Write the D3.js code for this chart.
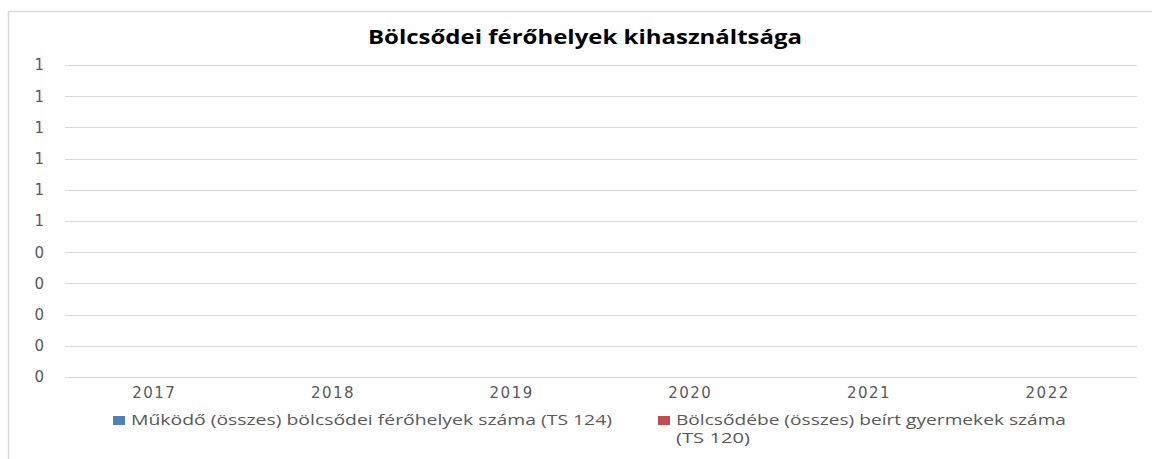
<!DOCTYPE html>
<html>
<head>
<meta charset="utf-8">
<script src="https://cdn.jsdelivr.net/npm/d3@7"></script>
<style>
  html, body { margin: 0; padding: 0; background: #fff; }
  svg { display: block; }
</style>
</head>
<body>
<svg id="chart" width="1152" height="459"></svg>
<script>
const categories = ["2017", "2018", "2019", "2020", "2021", "2022"];
const seriesNames = [
  "Működő (összes) bölcsődei férőhelyek száma (TS 124)",
  "Bölcsődébe (összes) beírt gyermekek száma (TS 120)"
];
const seriesA = [null, null, null, null, null, null];
const seriesB = [null, null, null, null, null, null];
const seriesColors = ["#4F81BD", "#C0504D"];
const yTickValues = [0, 0.1, 0.2, 0.3, 0.4, 0.5, 0.6, 0.7, 0.8, 0.9, 1];
const yTickLabels = ["0", "0", "0", "0", "0", "1", "1", "1", "1", "1", "1"];
const title = "Bölcsődei férőhelyek kihasználtsága";

const svg = d3.select("#chart");
const font = "'DejaVu Sans', sans-serif";

// chart area border
svg.append("rect")
  .attr("x", 8.5).attr("y", 11.5)
  .attr("width", 1160).attr("height", 460)
  .attr("fill", "#fff").attr("stroke", "#D9D9D9").attr("stroke-width", 1.5);

const m = { left: 65, right: 1137, top: 65, bottom: 377 };

const x = d3.scaleBand().domain(categories).range([m.left, m.right]).paddingInner(0.3).paddingOuter(0.15);
const xPos = d3.scaleBand().domain(categories).range([m.left, m.right]);
const y = d3.scaleLinear().domain([0, 1]).range([m.bottom, m.top]);

// gridlines
svg.append("g")
  .selectAll("line").data(yTickValues).join("line")
  .attr("x1", m.left).attr("x2", m.right)
  .attr("y1", d => Math.round(y(d)) + 0.5).attr("y2", d => Math.round(y(d)) + 0.5)
  .attr("stroke", "#D9D9D9").attr("stroke-width", 1.2);

// y axis labels
const yAxis = d3.axisLeft(y).tickValues(yTickValues)
  .tickFormat((d, i) => yTickLabels[i]).tickSize(0).tickPadding(21);
const gy = svg.append("g").attr("transform", `translate(${m.left},0)`).call(yAxis);
gy.select(".domain").remove();
gy.selectAll("text").attr("fill", "#595959").style("font-family", font).style("font-size", "15px");

// x axis labels
const xAxis = d3.axisBottom(xPos).tickSize(0).tickPadding(10);
const gx = svg.append("g").attr("transform", `translate(0,${m.bottom})`).call(xAxis);
gx.select(".domain").remove();
gx.selectAll("text").attr("fill", "#595959").style("font-family", font)
  .style("font-size", "15px").style("letter-spacing", "1.5px");

// bars (empty data -> none drawn)
const sub = d3.scaleBand().domain([0, 1]).range([0, x.bandwidth()]);
[seriesA, seriesB].forEach((vals, si) => {
  svg.append("g").selectAll("rect")
    .data(categories.map((c, i) => ({ c, v: vals[i] })).filter(d => d.v != null))
    .join("rect")
    .attr("x", d => x(d.c) + sub(si)).attr("width", sub.bandwidth())
    .attr("y", d => y(d.v)).attr("height", d => y(0) - y(d.v))
    .attr("fill", seriesColors[si]);
});

// title
svg.append("text")
  .attr("x", 585).attr("y", 44).attr("text-anchor", "middle")
  .attr("textLength", 434).attr("lengthAdjust", "spacingAndGlyphs")
  .style("font-family", "'Open Sans', sans-serif").style("font-weight", "bold")
  .style("font-size", "19px").attr("fill", "#000").text(title);

// legend
const leg = svg.append("g");
leg.append("rect").attr("x", 113).attr("y", 416).attr("width", 12).attr("height", 9).attr("fill", seriesColors[0]);
leg.append("text").attr("x", 131).attr("y", 425)
  .attr("textLength", 481).attr("lengthAdjust", "spacingAndGlyphs")
  .style("font-family", "'Open Sans', sans-serif").style("font-size", "15px").attr("fill", "#595959")
  .text(seriesNames[0]);

leg.append("rect").attr("x", 658).attr("y", 416).attr("width", 12).attr("height", 9).attr("fill", seriesColors[1]);
const parts = ["Bölcsődébe (összes) beírt gyermekek száma", "(TS 120)"];
leg.append("text").attr("x", 676).attr("y", 425)
  .attr("textLength", 390).attr("lengthAdjust", "spacingAndGlyphs")
  .style("font-family", "'Open Sans', sans-serif").style("font-size", "15px").attr("fill", "#595959")
  .text(parts[0]);
leg.append("text").attr("x", 676).attr("y", 443)
  .attr("textLength", 74).attr("lengthAdjust", "spacingAndGlyphs")
  .style("font-family", "'Open Sans', sans-serif").style("font-size", "15px").attr("fill", "#595959")
  .text(parts[1]);
</script>
</body>
</html>
